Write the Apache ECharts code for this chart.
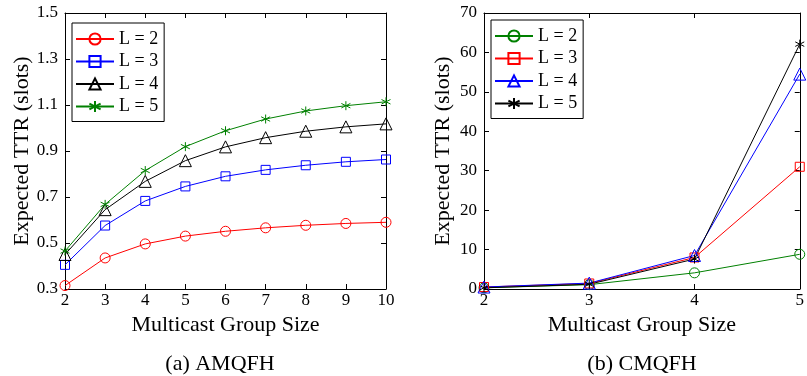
<!DOCTYPE html>
<html><head><meta charset="utf-8">
<script src="https://cdn.jsdelivr.net/npm/echarts@6/dist/echarts.min.js"></script>
<style>html,body{margin:0;padding:0;background:#fff}#c{width:807px;height:376px}</style>
</head><body><div id="c"></div>
<script>
const xA = [2, 3, 4, 5, 6, 7, 8, 9, 10];
const aL2 = [0.315, 0.435, 0.496, 0.530, 0.551, 0.566, 0.577, 0.585, 0.590];
const aL3 = [0.405, 0.576, 0.683, 0.746, 0.790, 0.818, 0.838, 0.853, 0.863];
const aL4 = [0.450, 0.645, 0.768, 0.858, 0.918, 0.958, 0.986, 1.005, 1.018];
const aL5 = [0.465, 0.668, 0.815, 0.919, 0.988, 1.039, 1.074, 1.097, 1.114];
const xB = [2, 3, 4, 5];
const bL2 = [0.3, 1.1, 4.1, 8.8];
const bL3 = [0.5, 1.4, 8.0, 31.0];
const bL4 = [0.5, 1.5, 8.5, 54.5];
const bL5 = [0.3, 1.2, 7.6, 62.1];
const legendA = ['L = 2', 'L = 3', 'L = 4', 'L = 5'];
const legendB = ['L = 2 ', 'L = 3 ', 'L = 4 ', 'L = 5 '];

const F = 'Liberation Serif';
const star = 'path://M0,-5L0,5M-4.33,-2.5L4.33,2.5M-4.33,2.5L4.33,-2.5';
function ser(name, xs, ys, color, symbol, size, xi, yi) {
  return {
    type: 'line', name, xAxisIndex: xi, yAxisIndex: yi,
    data: xs.map((x, i) => [x, ys[i]]),
    symbol, symbolSize: size, showSymbol: true, clip: false,
    lineStyle: { color, width: 1 },
    itemStyle: { color: 'rgba(255,255,255,0)', borderColor: color, borderWidth: 1 },
    emphasis: { disabled: true }, animation: false
  };
}
const lab = { color: '#000', fontFamily: F, fontSize: 17 };
function xax(grid, min, max, show) {
  return {
    type: 'value', gridIndex: grid, min, max, interval: 1, position: show ? 'bottom' : 'top',
    name: show ? 'Multicast Group Size' : '', nameLocation: 'middle', nameGap: 21,
    nameTextStyle: { color: '#000', fontFamily: F, fontSize: 22 },
    axisLine: { show: true, onZero: false, lineStyle: { color: '#000', width: 1 } },
    axisTick: { show: true, inside: true, length: 5, lineStyle: { color: '#000' } },
    axisLabel: { show: show, ...lab, margin: 3 },
    splitLine: { show: false }
  };
}
function yax(grid, min, max, interval, show, gap) {
  return {
    type: 'value', gridIndex: grid, min, max, interval, position: show ? 'left' : 'right',
    name: show ? 'Expected TTR (slots)' : '', nameLocation: 'middle', nameGap: gap,
    nameTextStyle: { color: '#000', fontFamily: F, fontSize: 22 },
    axisLine: { show: true, onZero: false, lineStyle: { color: '#000', width: 1 } },
    axisTick: { show: true, inside: true, length: 5, lineStyle: { color: '#000' } },
    axisLabel: { show: show, ...lab, margin: 7, formatter: v => (interval < 1 ? v.toFixed(1) : String(v)) },
    splitLine: { show: false }
  };
}
const chart = echarts.init(document.getElementById('c'), null, { renderer: 'canvas' });
const legendCommon = {
  orient: 'vertical', itemWidth: 38, itemHeight: 14, itemGap: 4.5,
  backgroundColor: '#fff', borderColor: '#000', borderWidth: 1, padding: [7, 6, 6, 3],
  textStyle: { color: '#000', fontFamily: F, fontSize: 18, lineHeight: 18 },
  formatter: n => n.trim(), selectedMode: false
};
chart.setOption({
  animation: false,
  grid: [
    { left: 65, right: 421, top: 13, bottom: 87 },
    { left: 484, right: 3, top: 13, bottom: 87 }
  ],
  xAxis: [xax(0, 2, 10, true), xax(0, 2, 10, false), xax(1, 2, 5, true), xax(1, 2, 5, false)],
  yAxis: [yax(0, 0.3, 1.5, 0.2, true, 31), yax(0, 0.3, 1.5, 0.2, false, 0), yax(1, 0, 70, 10, true, 30), yax(1, 0, 70, 10, false, 0)],
  legend: [
    { ...legendCommon, left: 72, top: 23, data: legendA },
    { ...legendCommon, left: 491, top: 20, data: legendB }
  ],
  series: [
    ser(legendA[0], xA, aL2, '#ff0000', 'circle', 10, 0, 0),
    ser(legendA[1], xA, aL3, '#0000ff', 'rect', 9, 0, 0),
    ser(legendA[2], xA, aL4, '#000000', 'triangle', 12, 0, 0),
    ser(legendA[3], xA, aL5, '#008000', star, 9, 0, 0),
    ser(legendB[0], xB, bL2, '#008000', 'circle', 10, 2, 2),
    ser(legendB[1], xB, bL3, '#ff0000', 'rect', 9, 2, 2),
    ser(legendB[2], xB, bL4, '#0000ff', 'triangle', 12, 2, 2),
    ser(legendB[3], xB, bL5, '#000000', star, 9, 2, 2)
  ],
  title: [
    { text: '(a) AMQFH', left: 215, top: 348, textAlign: 'center', textStyle: { color: '#000', fontFamily: F, fontSize: 22, fontWeight: 'normal' } },
    { text: '(b) CMQFH', left: 637, top: 348, textAlign: 'center', textStyle: { color: '#000', fontFamily: F, fontSize: 22, fontWeight: 'normal' } }
  ]
});
</script></body></html>
